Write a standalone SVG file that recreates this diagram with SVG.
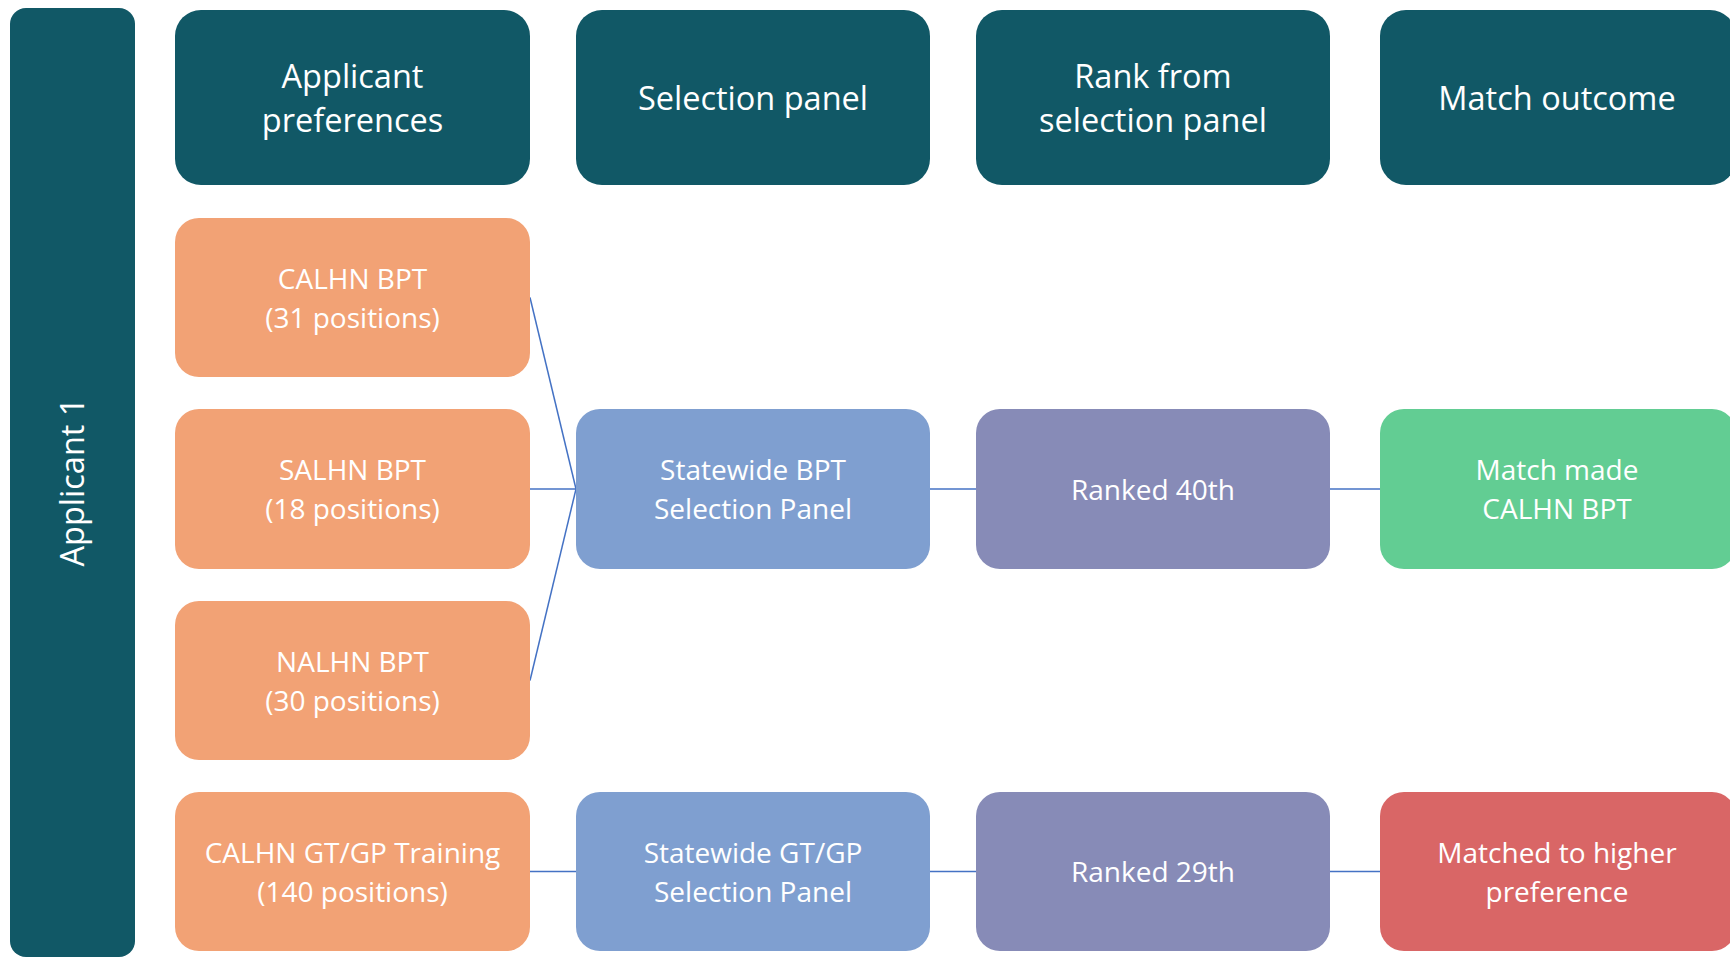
<svg xmlns="http://www.w3.org/2000/svg" width="1730" height="959" viewBox="0 0 1730 959">
<style>
.hd{fill:#115866}
.or{fill:#F2A275}
.bl{fill:#7F9FD0}
.pu{fill:#878BB7}
.gr{fill:#62CD93}
.rd{fill:#D96666}
text{font-family:"Open Sans","Liberation Sans",sans-serif;fill:#fff;text-anchor:middle}
.ht{font-size:32.5px}
.bt{font-size:28px}
.con line{stroke:#4472C4;stroke-width:1.5;fill:none}
</style>
<rect width="1730" height="959" fill="#fff"/>
<g id="applicant1">
<rect class="hd" x="10" y="8" width="125" height="949" rx="16"/>
<text class="ht" transform="translate(84,482) rotate(-90)">Applicant 1</text>
</g>
<g class="con" id="connectors">
<line x1="530" y1="297.5" x2="576" y2="489"/>
<line x1="530" y1="489" x2="576" y2="489"/>
<line x1="530" y1="680.5" x2="576" y2="489"/>
<line x1="930" y1="489" x2="976" y2="489"/>
<line x1="1330" y1="489" x2="1380" y2="489"/>
<line x1="530" y1="871.5" x2="576" y2="871.5"/>
<line x1="930" y1="871.5" x2="976" y2="871.5"/>
<line x1="1330" y1="871.5" x2="1380" y2="871.5"/>
</g>
<g id="h-prefs"><rect class="hd" x="175" y="10" width="355" height="175" rx="26"/><text class="ht" x="352.5" y="88">Applicant</text><text class="ht" x="352.5" y="132">preferences</text></g>
<g id="h-panel"><rect class="hd" x="576" y="10" width="354" height="175" rx="26"/><text class="ht" x="753" y="110">Selection panel</text></g>
<g id="h-rank"><rect class="hd" x="976" y="10" width="354" height="175" rx="26"/><text class="ht" x="1153" y="88">Rank from</text><text class="ht" x="1153" y="132">selection panel</text></g>
<g id="h-outcome"><rect class="hd" x="1380" y="10" width="356" height="175" rx="26"/><text class="ht" x="1557" y="110">Match outcome</text></g>

<g id="calhn-bpt"><rect class="or" x="175" y="218" width="355" height="159" rx="24"/><text class="bt" x="352.5" y="289">CALHN BPT</text><text class="bt" x="352.5" y="328">(31 positions)</text></g>
<g id="salhn-bpt"><rect class="or" x="175" y="409" width="355" height="160" rx="24"/><text class="bt" x="352.5" y="480">SALHN BPT</text><text class="bt" x="352.5" y="519">(18 positions)</text></g>
<g id="nalhn-bpt"><rect class="or" x="175" y="601" width="355" height="159" rx="24"/><text class="bt" x="352.5" y="672">NALHN BPT</text><text class="bt" x="352.5" y="711">(30 positions)</text></g>
<g id="calhn-gt"><rect class="or" x="175" y="792" width="355" height="159" rx="24"/><text class="bt" x="352.5" y="863">CALHN GT/GP Training</text><text class="bt" x="352.5" y="902">(140 positions)</text></g>

<g id="sw-bpt"><rect class="bl" x="576" y="409" width="354" height="160" rx="24"/><text class="bt" x="753" y="480">Statewide BPT</text><text class="bt" x="753" y="519">Selection Panel</text></g>
<g id="sw-gt"><rect class="bl" x="576" y="792" width="354" height="159" rx="24"/><text class="bt" x="753" y="863">Statewide GT/GP</text><text class="bt" x="753" y="902">Selection Panel</text></g>

<g id="rank40"><rect class="pu" x="976" y="409" width="354" height="160" rx="24"/><text class="bt" x="1153" y="500">Ranked 40th</text></g>
<g id="rank29"><rect class="pu" x="976" y="792" width="354" height="159" rx="24"/><text class="bt" x="1153" y="882">Ranked 29th</text></g>

<g id="match-made"><rect class="gr" x="1380" y="409" width="356" height="160" rx="24"/><text class="bt" x="1557" y="480">Match made</text><text class="bt" x="1557" y="519">CALHN BPT</text></g>
<g id="matched-higher"><rect class="rd" x="1380" y="792" width="356" height="159" rx="24"/><text class="bt" x="1557" y="863">Matched to higher</text><text class="bt" x="1557" y="902">preference</text></g>
</svg>
